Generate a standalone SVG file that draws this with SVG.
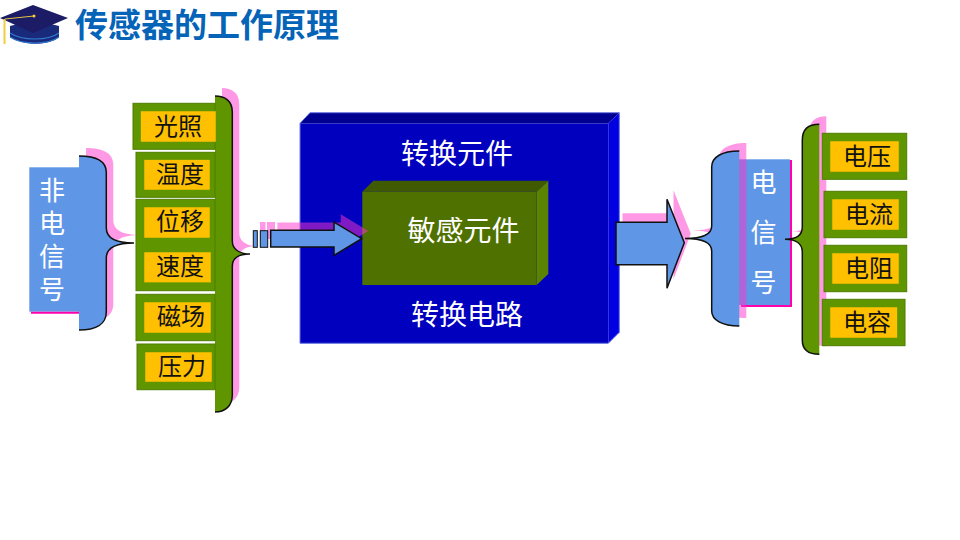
<svg xmlns="http://www.w3.org/2000/svg" width="960" height="540" viewBox="0 0 960 540">
<style>
text{font-family:"Noto Sans CJK SC","Liberation Sans",sans-serif;text-anchor:middle}
.title{font-size:33px;font-weight:700;fill:#0563B8}
.lbl{font-size:24px;fill:#111}
.wht{font-size:28px;fill:#fff}
.vt{font-size:26px;fill:#fff;writing-mode:vertical-rl;text-anchor:start}
.gb{fill:#5F9600;stroke:#4E7D00;stroke-width:1}
.or{fill:#FFC000;stroke:#5F9600;stroke-width:.5}
.sh{fill:#FF33CC;fill-opacity:.5}
.blue{fill:#5F97E6;stroke:#111;stroke-width:1.5}
.brg{fill:#5F9600;stroke:#111;stroke-width:1.5}
</style>
<defs>
<path id="lbr" d="M79 156C96 156 106 161 106.300 172V228C106.300 238 115 243 134 243C115 243 106.300 248 106.300 258V312C106.300 324 96 330 79 330"/>
<path id="lgbr" d="M215 96C225 96 232.300 101 232.300 112V241C232.300 249 239 254 250 254C239 254 232.300 258 232.300 266V395C232.300 406 225 412 215 412"/>
<path id="rbr" d="M739.300 151C722 151 711.700 157 711.700 167V226C711.700 234 702 238.500 685 238.500C702 238.500 711.700 243 711.700 251V311C711.700 320 722 326 739.300 326"/>
<path id="rgbr" d="M819.300 124.300C808 124.300 802.300 130 802.300 140V227C802.300 235 796 239.300 785 239.300C796 239.300 802.300 244 802.300 252V340C802.300 349 808 354.300 819.300 354.300"/>
<path id="ar" d="M270.700 230.300H334V222L361.700 238.700L334 255.300V247H270.700Z"/>
<path id="bar" d="M616 222.300H667V199.300L684.300 242.700L667 288.300V264.700H616Z"/>
</defs>
<g id="hat">
<path d="M10 26V37C22 46 50 46 59 37V26L34 20Z" fill="#1A2A7A"/>
<path d="M10 33C22 41 48 41 59 33M10 37C22 45 48 45 59 37" fill="none" stroke="#2F7AD0" stroke-width="1.200"/>
<path d="M0 18L33 5L68 18L33 33Z" fill="#1B1B66"/>
<path d="M5 19L34 16" fill="none" stroke="#E8C23C" stroke-width="1"/>
<path d="M4.500 19V44" fill="none" stroke="#F2CF3A" stroke-width="2"/>
<circle cx="34" cy="16" r="1.500" fill="#F2CF3A"/>
</g>
<text class="title" x="207" y="37">传感器的工作原理</text>
<g id="left-signal">
<rect x="29.300" y="167.300" width="50" height="144.400" fill="#5F97E6"/>
<path d="M31 312.700H79" stroke="#FF00AA" stroke-width="2" fill="none"/>
<use href="#lbr" class="sh" x="7" y="-8"/>
<use href="#lbr" class="blue"/>
<text class="vt" x="52" y="177" letter-spacing="7">非电信号</text>
</g>
<g id="left-brace">
<use href="#lgbr" class="sh" x="7" y="-8"/>
<use href="#lgbr" class="brg"/>
</g>
<g id="node-guangzhao"><rect class="gb" x="133" y="103.300" width="82" height="46"/><rect class="or" x="140.700" y="111" width="75.300" height="31"/><text class="lbl" x="178" y="135">光照</text></g>
<g id="node-wendu"><rect class="gb" x="136" y="152.300" width="79" height="45"/><rect class="or" x="144" y="159.700" width="66" height="30.300"/><text class="lbl" x="180" y="183">温度</text></g>
<g id="node-weiyi-sudu"><rect class="gb" x="136" y="199.300" width="79" height="91.400"/>
<rect class="or" x="144" y="207" width="66" height="31"/><text class="lbl" x="180" y="230">位移</text>
<rect class="or" x="144" y="252" width="67" height="30.700"/><text class="lbl" x="180" y="275">速度</text></g>
<g id="node-cichang"><rect class="gb" x="136" y="294.300" width="79" height="46.400"/><rect class="or" x="144" y="302" width="67" height="31"/><text class="lbl" x="181" y="325">磁场</text></g>
<g id="node-yali"><rect class="gb" x="137" y="344" width="78" height="45.700"/><rect class="or" x="145" y="352" width="67" height="30"/><text class="lbl" x="182" y="375">压力</text></g>
<g id="big-box">
<path d="M300 123.300L310 112.700H619.300L608.300 123.300Z" fill="#000090"/>
<path d="M608.300 123.300L619.300 112.700V332.300L608.300 343.300Z" fill="#0000E0"/>
<rect x="300" y="123.300" width="308.300" height="220" fill="#0000BE"/>
<path d="M300 343.300V123.300L310 112.700H619.300V332.300L608.300 343.300Z" fill="none" stroke="#6A78E0" stroke-width="1"/>
<text class="wht" x="457" y="164">转换元件</text>
<text class="wht" x="467" y="325">转换电路</text>
</g>
<g id="inner-box">
<path d="M362.300 191.700L373.300 180.700H548.300L536.700 191.700Z" fill="#3F5A00"/>
<path d="M536.700 191.700L548.300 180.700V274L536.700 285Z" fill="#5B8300"/>
<rect x="362.300" y="191.700" width="174.400" height="93.300" fill="#4F7100"/>
<text class="wht" x="463.500" y="241">敏感元件</text>
</g>
<g id="connectors">
<g class="sh"><rect x="260" y="222" width="5.500" height="17"/><rect x="267" y="222" width="8" height="17"/></g>
<use href="#ar" class="sh" x="6.700" y="-7.700"/>
<rect x="253.300" y="230.700" width="4" height="16.600" fill="#5F97E6" stroke="#111" stroke-width="1"/>
<rect x="260.300" y="230.700" width="7.400" height="16.600" fill="#5F97E6" stroke="#111" stroke-width="1"/>
<use href="#ar" class="blue"/>
<use href="#bar" class="sh" x="6.500" y="-9"/>
<use href="#bar" class="blue"/>
</g>
<g id="right-signal">
<rect x="739" y="159.300" width="51" height="145.700" fill="#5F97E6"/>
<path d="M791 160V306H741" fill="none" stroke="#FF00AA" stroke-width="2"/>
<use href="#rbr" class="sh" x="7" y="-8"/>
<use href="#rbr" class="blue"/>
<text class="vt" x="763.500" y="169" letter-spacing="24">电信号</text>
</g>
<g id="right-brace">
<use href="#rgbr" class="sh" x="7" y="-8"/>
<use href="#rgbr" class="brg"/>
</g>
<g id="node-dianya"><rect class="gb" x="822.300" y="133.300" width="84.400" height="46"/><rect class="or" x="830" y="141" width="69" height="31"/><text class="lbl" x="867" y="165">电压</text></g>
<g id="node-dianliu"><rect class="gb" x="824" y="191.300" width="82.700" height="46.400"/><rect class="or" x="832" y="199" width="67" height="31"/><text class="lbl" x="869" y="223">电流</text></g>
<g id="node-dianzu"><rect class="gb" x="824" y="245.300" width="82.700" height="46.400"/><rect class="or" x="832" y="253" width="67" height="31"/><text class="lbl" x="869" y="277">电阻</text></g>
<g id="node-dianrong"><rect class="gb" x="822.300" y="299.300" width="82.700" height="46.400"/><rect class="or" x="830" y="307" width="67.300" height="31"/><text class="lbl" x="867" y="331">电容</text></g>
</svg>
